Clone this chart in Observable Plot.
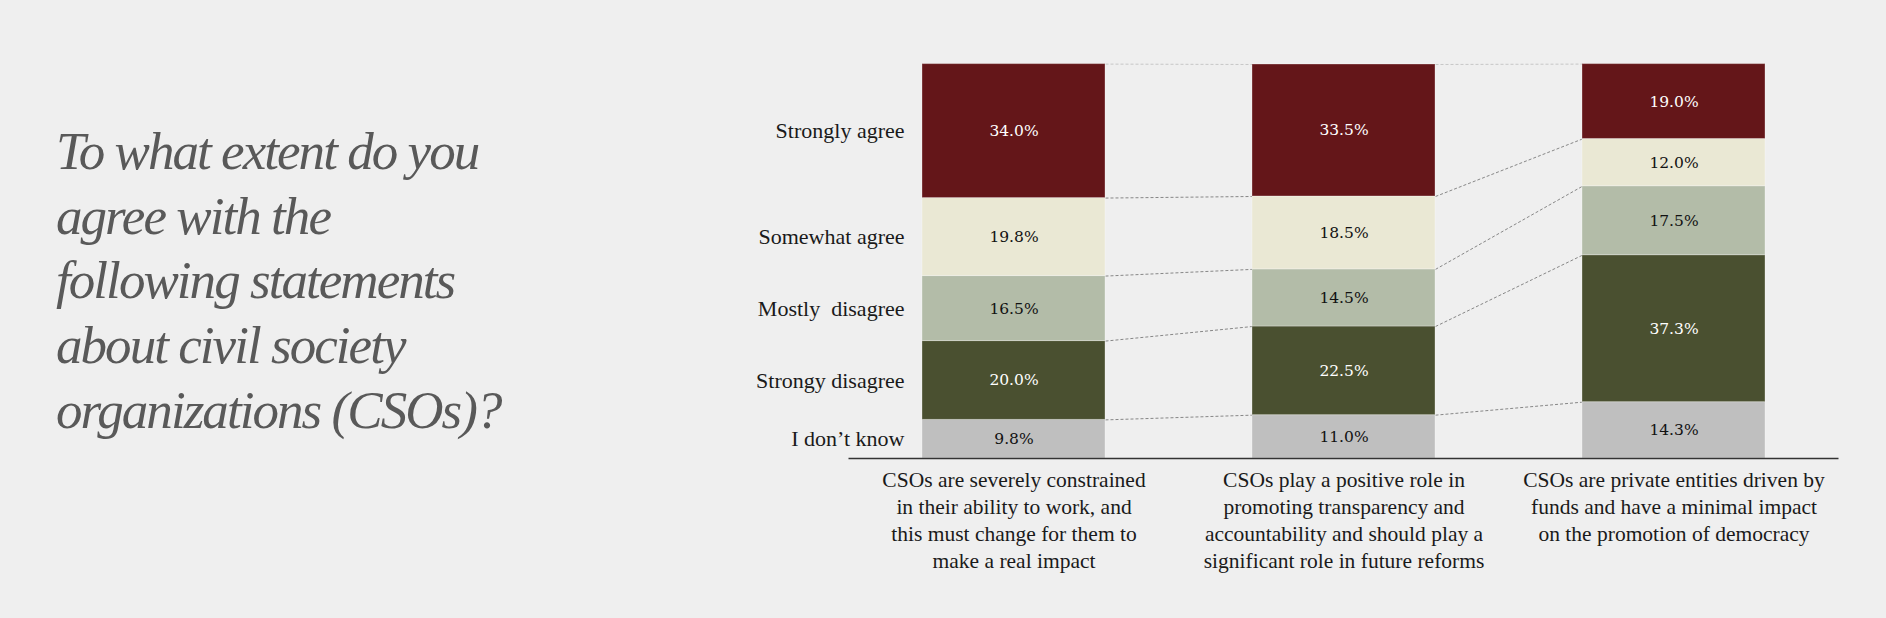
<!DOCTYPE html>
<html>
<head>
<meta charset="utf-8">
<script src="https://cdn.jsdelivr.net/npm/d3@7"></script>
<script src="https://cdn.jsdelivr.net/npm/@observablehq/plot@0.6"></script>
<style>
  html, body { margin: 0; padding: 0; background: #efefef; }
  #wrap { position: relative; width: 1886px; height: 618px; overflow: hidden; }
  #title {
    position: absolute; left: 56px; top: 119px;
    font-family: "Liberation Serif", serif; font-style: italic;
    font-size: 53px; line-height: 64.7px; letter-spacing: -1.95px;
    color: #595959; white-space: nowrap;
  }
  #chart text { white-space: pre; }
</style>
</head>
<body>
<div id="wrap">
  <div id="chart"></div>
  <div id="title">To what extent do you<br>agree with the<br>following statements<br>about civil society<br>organizations (CSOs)?</div>
</div>
<script>
// ---- data ----
const statements = [
  "CSOs are severely constrained\nin their ability to work, and\nthis must change for them to\nmake a real impact",
  "CSOs play a positive role in\npromoting transparency and\naccountability and should play a\nsignificant role in future reforms",
  "CSOs are private entities driven by\nfunds and have a minimal impact\non the promotion of democracy"
];
// bottom to top
const categories = ["I don’t know", "Strongy disagree", "Mostly  disagree", "Somewhat agree", "Strongly agree"];
const dontKnow        = [9.8, 11.0, 14.3];
const strongyDisagree = [20.0, 22.5, 37.3];
const mostlyDisagree  = [16.5, 14.5, 17.5];
const somewhatAgree   = [19.8, 18.5, 12.0];
const stronglyAgree   = [34.0, 33.5, 19.0];
const series = [dontKnow, strongyDisagree, mostlyDisagree, somewhatAgree, stronglyAgree];

// ---- build table ----
const hw = 183 / 330 / 2; // half bar width in band units
const rows = [];
statements.forEach((s, i) => {
  let cum = 0;
  series.forEach((vals, k) => {
    rows.push({i, k, category: categories[k], value: vals[i], y1: cum, y2: cum + vals[i]});
    cum += vals[i];
  });
});
const get = (i, k) => rows.find(d => d.i === i && d.k === k);
const links = [];
for (let i = 0; i < statements.length - 1; i++) {
  for (let k = 0; k < categories.length; k++) {
    links.push({x1: i + hw, x2: i + 1 - hw, y1: get(i, k).y2, y2: get(i + 1, k).y2, top: k === categories.length - 1});
  }
}
const darkText = new Set(["Strongy disagree", "Strongly agree"]);
const stmtRows = statements.map((s, i) => ({i, s}));

const chart = Plot.plot({
  width: 1886,
  height: 618,
  marginLeft: 848.5,
  marginRight: 47.5,
  marginTop: 64,
  marginBottom: 160,
  style: {background: "#efefef", color: "#1a1a1a"},
  x: {domain: [-0.5, statements.length - 0.5], axis: null},
  y: {domain: [0, 100], axis: null},
  color: {domain: categories, range: ["#bfbfbf", "#4a5030", "#b3bca8", "#eae8d4", "#641619"]},
  marks: [
    Plot.link(links.filter(d => !d.top), {x1: "x1", y1: "y1", x2: "x2", y2: "y2", stroke: "#7a7a7a", strokeWidth: 0.9, strokeDasharray: "3,2"}),
    Plot.link(links.filter(d => d.top), {x1: "x1", y1: "y1", x2: "x2", y2: "y2", stroke: "#c2c2c2", strokeWidth: 0.9, strokeDasharray: "3,2"}),
    Plot.rect(rows, {x1: d => d.i - hw, x2: d => d.i + hw, y1: "y1", y2: "y2", fill: "category", stroke: "white", strokeOpacity: 0.3, strokeWidth: 1}),
    Plot.text(rows.filter(d => darkText.has(d.category)), {x: "i", y: d => (d.y1 + d.y2) / 2, text: d => d.value.toFixed(1) + "%", fill: "white", fontSize: 15.5, fontFamily: "DejaVu Serif"}),
    Plot.text(rows.filter(d => !darkText.has(d.category)), {x: "i", y: d => (d.y1 + d.y2) / 2, text: d => d.value.toFixed(1) + "%", fill: "#111", fontSize: 15.5, fontFamily: "DejaVu Serif"}),
    Plot.text(rows.filter(d => d.i === 0), {x: d => d.i - hw, y: d => (d.y1 + d.y2) / 2, text: "category", textAnchor: "end", dx: -18, fontSize: 22, fontFamily: "Liberation Serif", fill: "#1a1a1a"}),
    Plot.ruleY([0], {stroke: "#333", strokeWidth: 1.5}),
    Plot.text(stmtRows, {x: "i", y: 0, text: "s", lineAnchor: "top", dy: 9, lineHeight: 1.26, fontSize: 21.5, fontFamily: "Liberation Serif", fill: "#1a1a1a"})
  ]
});
document.getElementById("chart").appendChild(chart);
</script>
</body>
</html>
